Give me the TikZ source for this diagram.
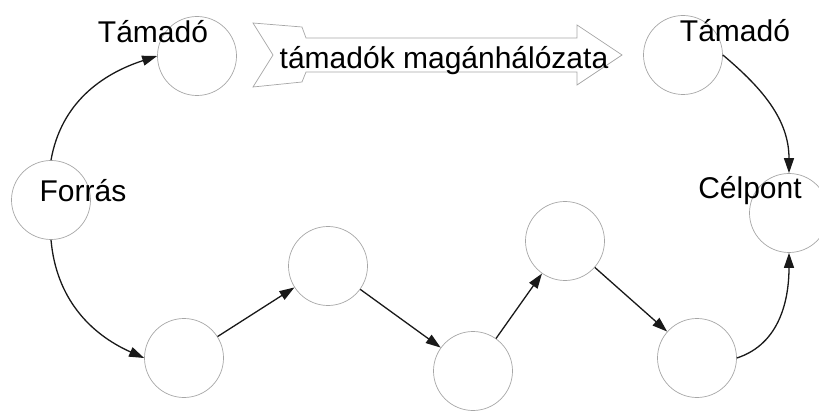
\documentclass[tikz,border=0pt]{standalone}
\usepackage{fontspec}
\setmainfont{Liberation Sans}
\usetikzlibrary{arrows.meta}
\begin{document}
\begin{tikzpicture}[x=1pt,y=1pt,
  hop/.style={circle,draw=black!35,line width=0.7pt,minimum size=79pt,inner sep=0pt},
  lbl/.style={font=\fontsize{30}{35}\selectfont,inner sep=0pt,anchor=base},
  link/.style={draw=black!90,line width=1.3pt,-{Triangle[length=15pt,width=10pt]}},
  banner/.style={draw=black!35,line width=0.7pt,line join=miter}
  ]
\clip (0,0) rectangle (819,410);

% hosts
\node[hop] (F)  at (51,210) {};
\node[hop] (T1) at (197,354) {};
\node[hop] (T2) at (683,355) {};
\node[hop] (C)  at (789,197) {};
\node[hop] (B1) at (184,52) {};
\node[hop] (B2) at (328,144) {};
\node[hop] (B3) at (473,39) {};
\node[hop] (B4) at (565,169) {};
\node[hop] (B5) at (697,52) {};

% private network banner arrow
\draw[banner] (253,387) -- (302,383) -- (306,372) -- (577,372) -- (577,385)
  -- (622,355) -- (577,325) -- (577,338) -- (306,338) -- (302,328)
  -- (253,323) -- (273,355) -- cycle;

% labels
\node[lbl] (lF)  at (83,208)  {Forrás};
\node[lbl] (lT1) at (153,367) {Támadó};
\node[lbl] (lT2) at (735,368) {Támadó};
\node[lbl] (lC)  at (750,211) {Célpont};
\node[lbl] (lN)  at (444,341) {támadók magánhálózata};

% connections
\draw[link] (F.north) to[out=80,in=198] (T1.west);
\draw[link] (F.south) to[out=-85,in=156] (B1.west);
\draw[link] (B1) -- (B2);
\draw[link] (B2) -- (B3);
\draw[link] (B3) -- (B4);
\draw[link] (B4) -- (B5);
\draw[link] (B5.east) to[out=18,in=-90] (C.south);
\draw[link] (T2.east) to[out=-40,in=90] (C.north);
\end{tikzpicture}
\end{document}
